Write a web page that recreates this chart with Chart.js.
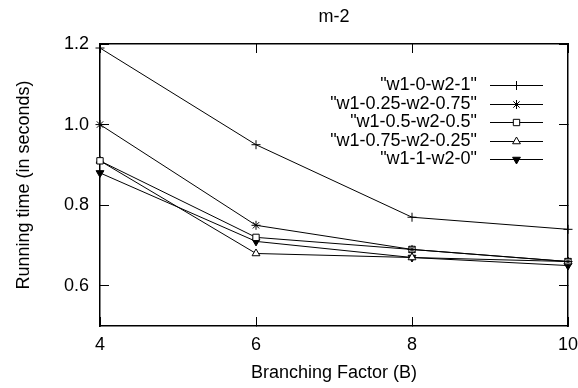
<!DOCTYPE html>
<html>
<head>
<meta charset="utf-8">
<script src="https://cdn.jsdelivr.net/npm/chart.js@4/dist/chart.umd.min.js"></script>
<style>
  html, body { margin: 0; padding: 0; background: #fff; }
</style>
</head>
<body>
<canvas id="mycanvas" width="578" height="388"></canvas>
<script>
// branching factor on the x axis
var branching = [4, 6, 8, 10];
var yTicks = [0.6, 0.8, 1.0, 1.2];

var names = ['"w1-0-w2-1"', '"w1-0.25-w2-0.75"', '"w1-0.5-w2-0.5"', '"w1-0.75-w2-0.25"', '"w1-1-w2-0"'];
var w1_0    = [1.19, 0.95, 0.77, 0.74];
var w1_025  = [1.00, 0.75, 0.69, 0.66];
var w1_05   = [0.91, 0.72, 0.69, 0.66];
var w1_075  = [0.91, 0.68, 0.67, 0.66];
var w1_1    = [0.88, 0.71, 0.67, 0.65];

var series = [w1_0, w1_025, w1_05, w1_075, w1_1];
var styles = [
    { pointStyle: 'cross', rotation: 0, fill: '#fff' },
    { pointStyle: 'star', rotation: 0, fill: '#fff' },
    { pointStyle: 'rect', rotation: 0, fill: '#fff' },
    { pointStyle: 'triangle', rotation: 0, fill: '#fff' },
    { pointStyle: 'triangle', rotation: 180, fill: '#000' }
];

var FONT = '"Liberation Sans", Arial, sans-serif';
var FSIZE = 18;

var datasets = series.map(function(vals, i){
    return {
        label: names[i],
        data: vals.map(function(v, j){ return { x: branching[j], y: v }; }),
        borderColor: '#000',
        borderWidth: 1,
        backgroundColor: styles[i].fill,
        pointStyle: styles[i].pointStyle,
        rotation: styles[i].rotation,
        pointRadius: 4.5,
        pointBorderWidth: 1,
        pointBorderColor: '#000',
        pointBackgroundColor: styles[i].fill,
        tension: 0,
        clip: false
    };
});

// gnuplot look: frame on all four sides, tick marks pointing inwards
var frameGrid = { display: true, drawOnChartArea: false, drawTicks: true, tickLength: -9, color: '#000', lineWidth: 1 };
var frameBorder = { display: true, color: '#000', width: 1.5 };
function xTicksFrom(s){ s.ticks = branching.map(function(v){ return { value: v }; }); }
function yTicksFrom(s){ s.ticks = yTicks.map(function(v){ return { value: v }; }); }

// title and key
var gnuKey = {
    id: 'gnuKey',
    afterDraw: function(chart){
        var ctx = chart.ctx;
        var a = chart.chartArea;
        ctx.save();
        ctx.fillStyle = '#000';
        ctx.font = FSIZE + 'px ' + FONT;
        ctx.textAlign = 'center';
        ctx.textBaseline = 'middle';
        ctx.fillText('m-2', (a.left + a.right) / 2, 17);

        var textRight = 477, lx0 = 490, lx1 = 543, y0 = 85, dy = 18.5;
        ctx.textAlign = 'right';
        chart.data.datasets.forEach(function(ds, i){
            var y = Math.round(y0 + i * dy) + 0.5;
            ctx.fillStyle = '#000';
            ctx.fillText(ds.label, textRight, y);
            ctx.strokeStyle = '#000';
            ctx.lineWidth = 1;
            ctx.beginPath();
            ctx.moveTo(lx0, y);
            ctx.lineTo(lx1, y);
            ctx.stroke();
            ctx.fillStyle = ds.pointBackgroundColor;
            Chart.helpers.drawPoint(ctx, {
                pointStyle: ds.pointStyle,
                rotation: ds.rotation,
                radius: 4.5,
                borderWidth: 1
            }, (lx0 + lx1) / 2, y);
        });
        ctx.restore();
    }
};

var chart = new Chart(document.getElementById('mycanvas').getContext('2d'), {
    type: 'line',
    data: { datasets: datasets },
    plugins: [gnuKey],
    options: {
        responsive: false,
        animation: false,
        layout: { padding: { top: 44, right: 10, left: 0, bottom: 0 } },
        plugins: { legend: { display: false }, tooltip: { enabled: false } },
        scales: {
            x: {
                type: 'linear', position: 'bottom',
                min: 4, max: 10,
                afterBuildTicks: xTicksFrom,
                afterFit: function(s){ s.height = 62; s.paddingLeft = 0; s.paddingRight = 0; },
                grid: frameGrid,
                border: frameBorder,
                ticks: { color: '#000', padding: 17, font: { family: FONT, size: FSIZE }, maxRotation: 0 },
                title: { display: true, text: 'Branching Factor (B)', color: '#000', padding: { top: 2 }, font: { family: FONT, size: FSIZE } }
            },
            x2: {
                type: 'linear', position: 'top',
                min: 4, max: 10,
                afterBuildTicks: xTicksFrom,
                afterFit: function(s){ s.height = 0; s.paddingLeft = 0; s.paddingRight = 0; },
                grid: frameGrid,
                border: frameBorder,
                ticks: { display: false }
            },
            y: {
                type: 'linear', position: 'left',
                min: 0.5, max: 1.2,
                afterBuildTicks: yTicksFrom,
                afterFit: function(s){ s.width = 100; s.paddingTop = 0; s.paddingBottom = 0; },
                grid: frameGrid,
                border: frameBorder,
                ticks: {
                    color: '#000', padding: 20, font: { family: FONT, size: FSIZE },
                    callback: function(v){ return Number(v).toFixed(1); }
                },
                title: { display: true, text: 'Running time (in seconds)', color: '#000', padding: { top: 13 }, font: { family: FONT, size: FSIZE } }
            },
            y2: {
                type: 'linear', position: 'right',
                min: 0.5, max: 1.2,
                afterBuildTicks: yTicksFrom,
                afterFit: function(s){ s.width = 0; s.paddingTop = 0; s.paddingBottom = 0; },
                grid: frameGrid,
                border: frameBorder,
                ticks: { display: false }
            }
        }
    }
});
</script>
</body>
</html>
